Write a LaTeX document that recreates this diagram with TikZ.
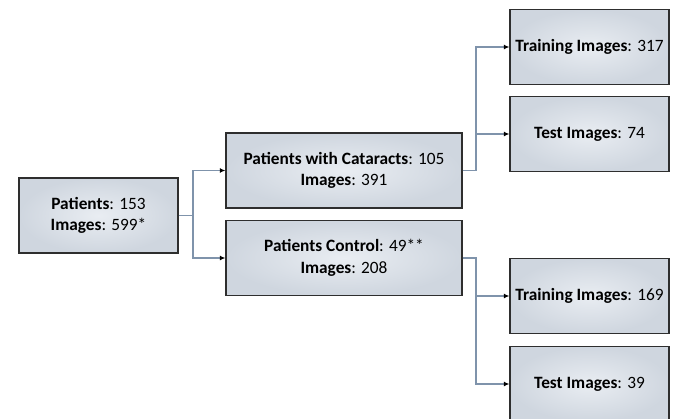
\documentclass[tikz,border=0pt]{standalone}
\usepackage{fontspec}
\setmainfont{Carlito}
\usetikzlibrary{arrows.meta}
\definecolor{conncol}{HTML}{7F93AB}
\definecolor{boxin}{HTML}{E9EDF2}
\definecolor{boxout}{HTML}{CFD6DF}
\definecolor{boxline}{HTML}{2E2E2E}
\tikzset{
  box/.style={draw=boxline, line width=1.3pt, inner color=boxin, outer color=boxout,
    rectangle, align=center, font=\fontsize{17.3}{21.5}\selectfont, text=black, inner sep=0pt},
  smallbox/.style={box, minimum width=159pt, minimum height=75pt},
  widebox/.style={box, minimum width=236pt, minimum height=75pt},
  conn/.style={draw=conncol, line width=1.3pt, -{Latex[length=5.5pt,width=5pt,color=black]}}
}
\begin{document}
\begin{tikzpicture}[x=1pt,y=-1pt]
\useasboundingbox (0,0) rectangle (679,418);
\clip (0,0) rectangle (679,418);
\fill[white] (0,0) rectangle (679,418);
\node[smallbox] (p) at (98.5,215.5) {\textbf{Patients}: 153\\\textbf{Images}: 599*};
\node[widebox] (cat) at (344,170.5) {\textbf{Patients with Cataracts}: 105\\\textbf{Images}: 391};
\node[widebox] (ctl) at (344,258) {\textbf{Patients Control}: 49**\\\textbf{Images}: 208};
\node[smallbox] (tr1) at (589.5,47) {\textbf{Training Images}: 317};
\node[smallbox] (te1) at (589.5,134) {\textbf{Test Images}: 74};
\node[smallbox] (tr2) at (589.5,296) {\textbf{Training Images}: 169};
\node[smallbox] (te2) at (589.5,384) {\textbf{Test Images}: 39};
\coordinate (j1) at (193,0);
\coordinate (j2) at (476,0);
\draw[conn] (p.east) -- (p.east -| j1) |- (cat.west);
\draw[conn] (p.east -| j1) |- (ctl.west);
\draw[conn] (cat.east) -- (cat.east -| j2) |- (tr1.west);
\draw[conn] (cat.east -| j2) |- (te1.west);
\draw[conn] (ctl.east) -- (ctl.east -| j2) |- (tr2.west);
\draw[conn] (ctl.east -| j2) |- (te2.west);
\end{tikzpicture}
\end{document}
